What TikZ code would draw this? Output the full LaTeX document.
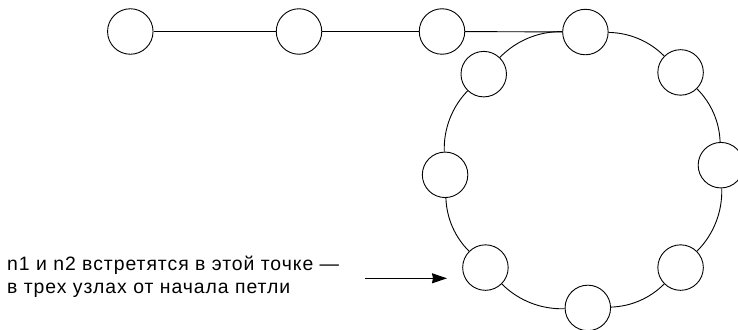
\documentclass[tikz,border=0pt]{standalone}
\usepackage{fontspec}
\setmainfont{Liberation Sans}
\newfontfamily\lblfont[LetterSpace=5]{Liberation Sans}
\usetikzlibrary{calc,arrows.meta}
\begin{document}
\begin{tikzpicture}[x=1pt,y=1pt,
  vert/.style={circle,draw,fill=white,line width=0.9pt,minimum size=45.5pt,inner sep=0pt},
  link/.style={line width=0.9pt},
  arc/.style={line width=0.9pt,looseness=0.89},
  pointer/.style={line width=0.9pt,-{Stealth[length=15pt,width=10pt,inset=1pt]}},
  lbl/.style={align=left,inner sep=0pt,font=\lblfont\fontsize{19.4}{23.3}\selectfont}]
\useasboundingbox (0,0) rectangle (738,-329);
\coordinate (c) at (583,-170);
% tail
\node[vert] (a1) at (130.3,-31.5) {};
\node[vert] (a2) at (299,-31.5) {};
\node[vert] (a3) at (442,-31.5) {};
% loop
\node[vert] (l0) at ($(c)+(89:138)$) {};
\node[vert] (l1) at ($(c)+(45:138)$) {};
\node[vert] (l2) at ($(c)+(2:138)$) {};
\node[vert] (l3) at ($(c)+(-45:138)$) {};
\node[vert] (l4) at ($(c)+(-88:138)$) {};
\node[vert] (l5) at ($(c)+(-135:138)$) {};
\node[vert] (l6) at ($(c)+(-178:138)$) {};
\node[vert] (l7) at ($(c)+(136:138)$) {};
\draw[link] (a1) -- (a2);
\draw[link] (a2) -- (a3);
\draw[link] (a3) -- (l0);
\draw[arc] (l0) to[bend left=22] (l1);
\draw[arc] (l1) to[bend left=21.5] (l2);
\draw[arc] (l2) to[bend left=23.5] (l3);
\draw[arc] (l3) to[bend left=21.5] (l4);
\draw[arc] (l4) to[bend left=23.5] (l5);
\draw[arc] (l5) to[bend left=21.5] (l6);
\draw[arc] (l6) to[bend left=23] (l7);
\draw[arc] (l7) to[bend left=23.5] (l0);
% label
\node[lbl,anchor=north west] (t) at (7,-256) {n1 и n2 встретятся в этой точке —\\в трех узлах от начала петли};
\coordinate (ps) at (365,-278.3);
\coordinate (pe) at (447,-278.3);
\draw[pointer] (ps) -- (pe);
\end{tikzpicture}
\end{document}
